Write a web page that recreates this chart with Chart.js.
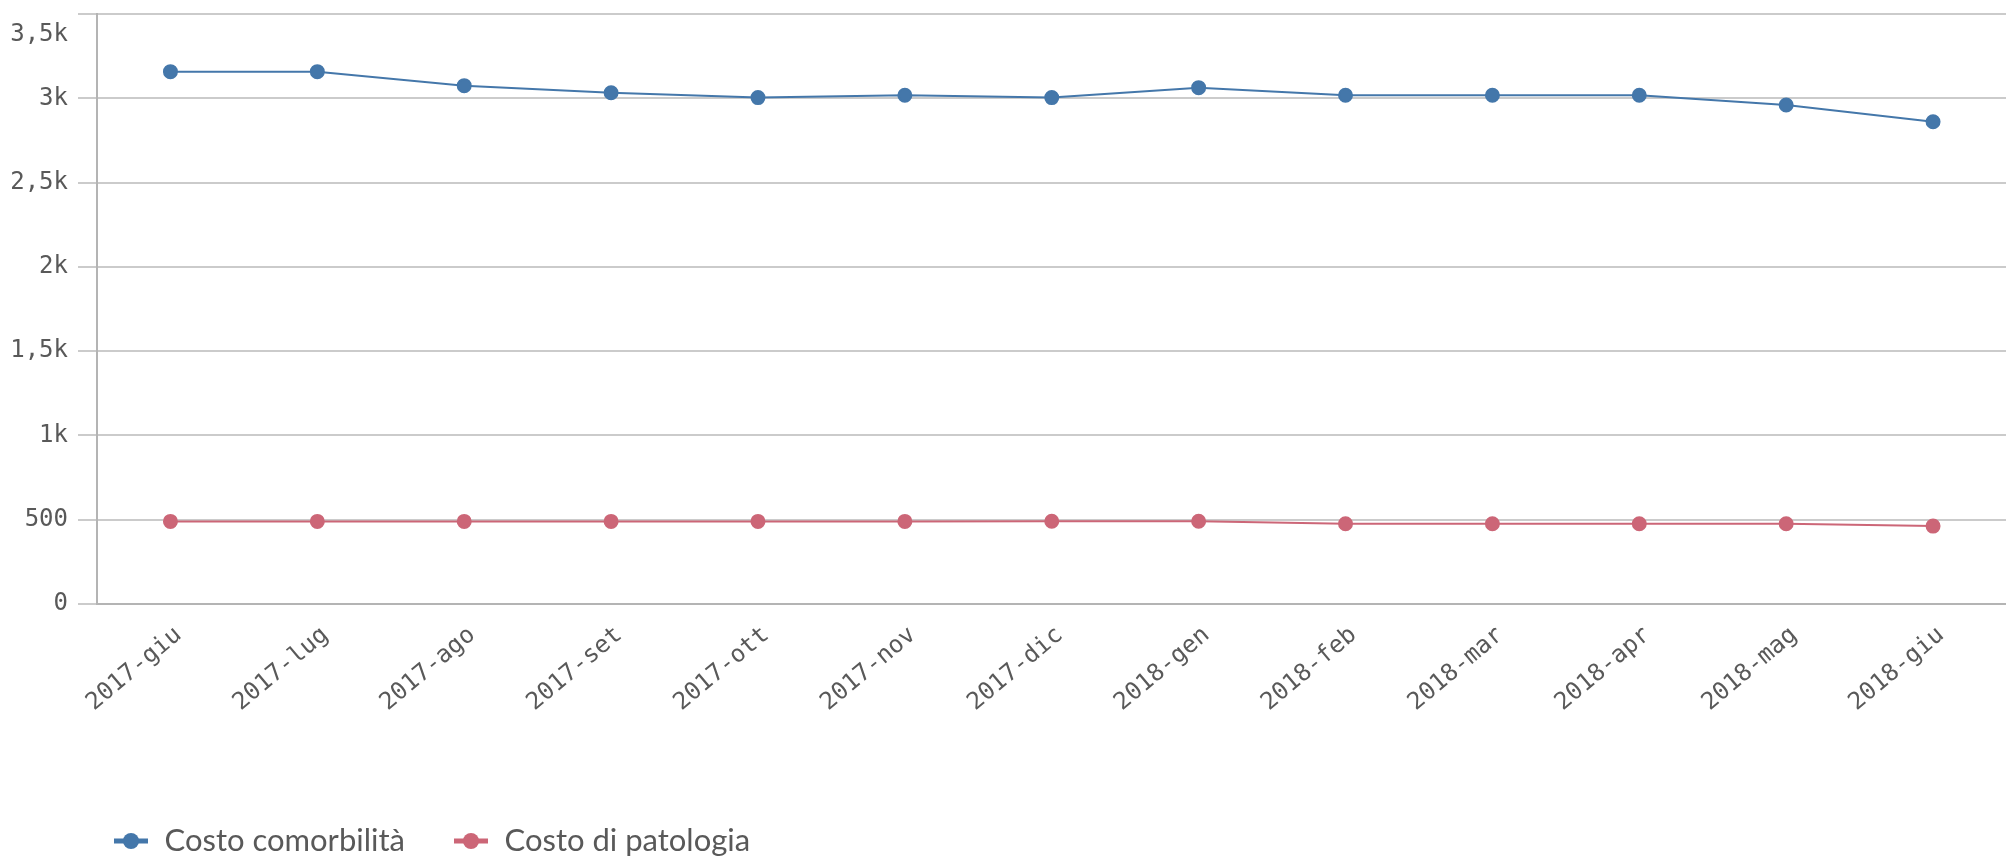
<!DOCTYPE html>
<html>
<head>
<meta charset="utf-8">
<script src="https://cdn.jsdelivr.net/npm/chart.js@4/dist/chart.umd.min.js"></script>
<style>
  html, body { margin: 0; padding: 0; background: #fff; overflow: hidden; }
  #wrap { width: 2015px; height: 859px; }
</style>
</head>
<body>
<div id="wrap"><canvas id="chart"></canvas></div>
<script>
// Months on the x axis
const months = ['2017-giu', '2017-lug', '2017-ago', '2017-set', '2017-ott', '2017-nov', '2017-dic',
  '2018-gen', '2018-feb', '2018-mar', '2018-apr', '2018-mag', '2018-giu'];

// Series values
const costoComorbilita = [3158, 3158, 3075, 3033, 3004, 3018, 3004, 3063, 3018, 3018, 3018, 2960, 2861];
const costoPatologia = [490, 490, 490, 490, 490, 490, 491, 491, 476, 476, 476, 476, 462];

const yMax = 3500;
const yStep = 500;

const blue = '#4477aa';
const red = '#cc6677';
const grey = '#595959';

const legendPad = 48;
const legendFont = 31;

// legend marker: short line with a dot in the middle
function marker(color) {
  const c = document.createElement('canvas');
  c.width = 36; c.height = 18;
  const g = c.getContext('2d');
  g.strokeStyle = color; g.lineWidth = 5;
  g.beginPath(); g.moveTo(1, 9); g.lineTo(35, 9); g.stroke();
  g.fillStyle = color;
  g.beginPath(); g.arc(18, 9, 8, 0, Math.PI * 2); g.fill();
  return c;
}

// 3500 -> "3,5k", 500 -> "500"
function fmt(v) {
  const s = v >= 1000 ? String(v / 1000).replace('.', ',') + 'k' : String(v);
  // top label sits a bit under its grid line, like in the picture
  return v === yMax ? ['', s] : s;
}

// move the legend row to where it sits in the picture
const placeLegend = {
  id: 'placeLegend',
  afterLayout(chart) {
    chart.legend.left = 113 - legendPad;
    chart.legend.top = 841 - legendPad - legendFont / 2;
  }
};

new Chart(document.getElementById('chart'), {
  type: 'line',
  data: {
    labels: months,
    datasets: [
      { label: 'Costo comorbilità', data: costoComorbilita, borderColor: blue, backgroundColor: blue,
        borderWidth: 2, pointRadius: 6.5, pointHoverRadius: 6.5, pointStyle: 'circle' },
      { label: 'Costo di patologia', data: costoPatologia, borderColor: red, backgroundColor: red,
        borderWidth: 2, pointRadius: 6.5, pointHoverRadius: 6.5, pointStyle: 'circle' }
    ]
  },
  options: {
    responsive: true,
    maintainAspectRatio: false,
    animation: false,
    layout: { padding: { top: 14, left: 0, right: 0, bottom: 0 } },
    plugins: {
      tooltip: { enabled: false },
      legend: {
        position: 'bottom',
        align: 'start',
        labels: {
          color: grey,
          font: { family: 'Lato', size: legendFont },
          padding: legendPad,
          usePointStyle: true,
          pointStyleWidth: 36,
          generateLabels(chart) {
            return chart.data.datasets.map((ds, i) => ({
              text: ds.label, fontColor: grey, datasetIndex: i,
              pointStyle: marker(ds.borderColor), lineWidth: 0, strokeStyle: 'transparent', fillStyle: ds.borderColor
            }));
          }
        }
      }
    },
    scales: {
      x: {
        offset: true,
        grid: { display: false },
        border: { color: '#b4b4b4', width: 2 },
        ticks: {
          color: grey,
          font: { family: 'DejaVu Sans Mono', size: 24 },
          minRotation: 40, maxRotation: 40,
          padding: 9,
          labelOffset: 8,
          autoSkip: false
        },
        afterFit(axis) { axis.height = 166; }
      },
      y: {
        min: 0, max: yMax,
        grid: { color: '#cbcbcb', lineWidth: 2, tickLength: 19, drawTicks: true },
        border: { color: '#b4b4b4', width: 2 },
        ticks: {
          stepSize: yStep,
          autoSkip: false,
          color: grey,
          font: { family: 'DejaVu Sans Mono', size: 24, lineHeight: 1.7 },
          padding: 10,
          callback: fmt
        },
        afterFit(axis) { axis.width = 97; axis.paddingTop = 0; axis.paddingBottom = 0; }
      }
    }
  },
  plugins: [placeLegend]
});
</script>
</body>
</html>
